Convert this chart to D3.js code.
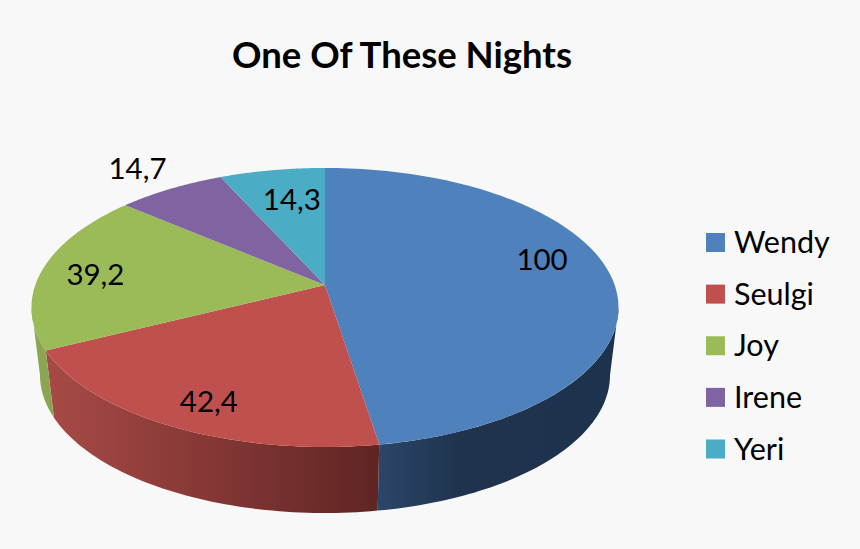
<!DOCTYPE html>
<html><head><meta charset="utf-8">
<script src="https://cdn.jsdelivr.net/npm/d3@7/dist/d3.min.js"></script>
<style>html,body{margin:0;padding:0;background:#f8f8f8}svg{display:block;font-family:Lato,sans-serif}</style>
</head><body><svg id="c" width="860" height="549"></svg>
<script>
const title = "One Of These Nights";
const categories = ["Wendy","Seulgi","Joy","Irene","Yeri"];
const values = [100,42.4,39.2,14.7,14.3];
const valueLabels = ["100","42,4","39,2","14,7","14,3"];
const topColors = ["#4f81bd","#c0504d","#9bbb59","#8064a2","#4bacc6"];
const sideStops = [
  [[0,"#2b4669"],[0.35,"#1f334d"],[1,"#1d324c"]],
  [[0,"#a84a46"],[0.5,"#843735"],[1,"#5f2523"]],
  [[0,"#8da855"],[1,"#8aa552"]],
  [[0,"#4b3b60"],[1,"#4b3b60"]],
  [[0,"#2c6474"],[1,"#2c6474"]]
];
const labelFrac = [0.75,0.75,0.75,1,0.75];
const labelNudge = [[2.5,-17],[-5,15],[-17,2],[-33,-20],[8,4]];

const W=860,H=549,cx=325,k=0.161;
const topPlane={R:289.7,S:135.9,y0:285};
const botPlane={R:281.3,S:134.4,y0:352.8};
const project=(p,a,f=1)=>{const u=f*Math.sin(a),v=f*Math.cos(a),w=1+k*v;return [cx+p.R*u/w,p.y0-p.S*v/w];};
// angles where the rim turns from back to front
const rightLimit=Math.acos(-k), leftLimit=2*Math.PI-Math.acos(-k);

const svg=d3.select("#c");
svg.append("rect").attr("width",W).attr("height",H).attr("fill","#f8f8f8");
const defs=svg.append("defs");
const arcs=d3.pie().sort(null)(values);
const line=d3.line();
const edge=(p,a0,a1)=>d3.range(0,61).map(i=>project(p,a0+(a1-a0)*i/60));

// front sides
const sides=svg.append("g");
arcs.forEach((d,i)=>{
  const a0=Math.max(d.startAngle,rightLimit),a1=Math.min(d.endAngle,leftLimit);
  if(a1<=a0) return;
  const t=edge(topPlane,a0,a1),b=edge(botPlane,a0,a1);
  const gx=d3.scaleLinear().domain([0,1]).range(d3.extent(t.concat(b),q=>q[0]));
  const g=defs.append("linearGradient").attr("id","s"+i).attr("gradientUnits","userSpaceOnUse")
    .attr("x1",gx(0)).attr("x2",gx(1)).attr("y1",0).attr("y2",0);
  sideStops[i].forEach(s=>g.append("stop").attr("offset",s[0]).attr("stop-color",s[1]));
  sides.append("path").attr("d",line(t.concat(b.reverse()))+"Z").attr("fill",`url(#s${i})`);
});

// top
svg.append("g").selectAll("path").data(arcs).join("path")
  .attr("d",d=>line([[cx,topPlane.y0]].concat(edge(topPlane,d.startAngle,d.endAngle)))+"Z")
  .attr("fill",(d,i)=>topColors[i]);

// data labels
svg.append("g").selectAll("text").data(arcs).join("text")
  .attr("x",(d,i)=>project(topPlane,(d.startAngle+d.endAngle)/2,labelFrac[i])[0]+labelNudge[i][0])
  .attr("y",(d,i)=>project(topPlane,(d.startAngle+d.endAngle)/2,labelFrac[i])[1]+labelNudge[i][1])
  .attr("dy","0.35em").attr("text-anchor","middle").attr("font-size",29.5).attr("fill","#000")
  .text((d,i)=>valueLabels[i]);

// title
svg.append("text").attr("x",402).attr("y",68).attr("text-anchor","middle")
  .attr("font-size",36.5).attr("font-weight",700).attr("fill","#000").text(title);

// legend
const ly=d3.scalePoint().domain(categories).range([242.5,449]);
const lg=svg.append("g").selectAll("g").data(categories).join("g")
  .attr("transform",d=>`translate(706,${ly(d)})`);
lg.append("rect").attr("x",0).attr("y",-9.5).attr("width",19).attr("height",19)
  .attr("fill",(d,i)=>topColors[i]);
lg.append("text").attr("x",28).attr("y",10.5).attr("font-size",30.5).attr("fill","#000").text(d=>d);
</script></body></html>
